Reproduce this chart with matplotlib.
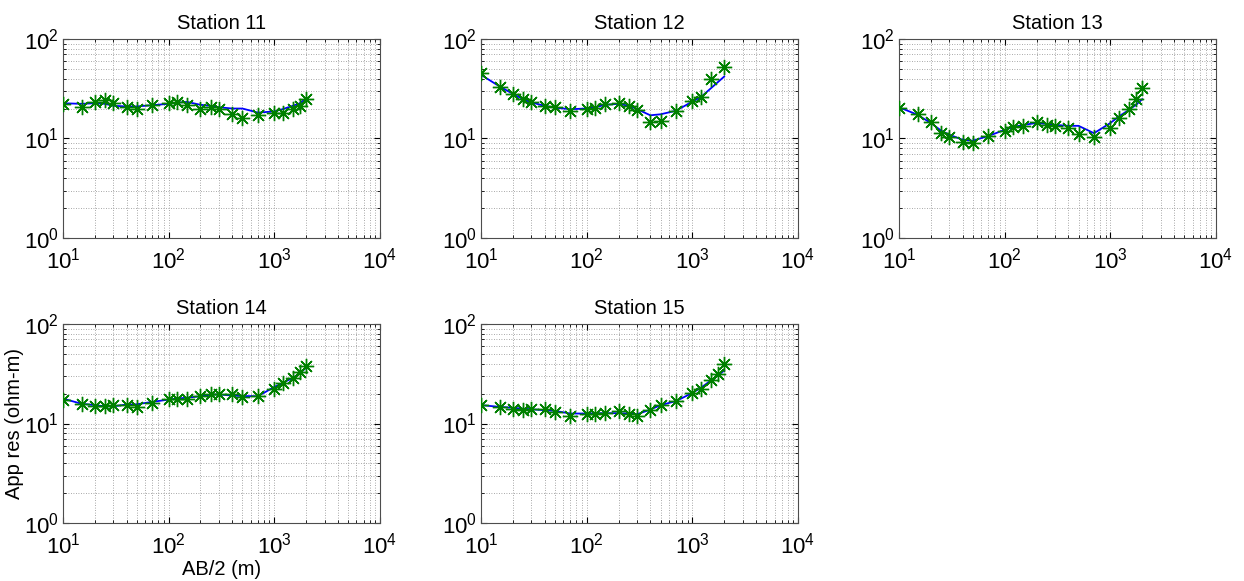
import numpy as np
from matplotlib import pyplot as plt

plt.rcParams['font.family'] = ['Liberation Sans', 'DejaVu Sans']
plt.rcParams['mathtext.fontset'] = 'custom'
plt.rcParams['mathtext.rm'] = 'Liberation Sans'
plt.rcParams['mathtext.it'] = 'Liberation Sans:italic'

# AB/2 spacings (m)
ab2 = [10, 15, 20, 25, 30, 40, 50, 70, 100, 120, 150, 200, 250, 300,
       400, 500, 700, 1000, 1200, 1500, 1750, 2000]
ab2_12 = [10, 15, 20, 25, 30, 40, 50, 70, 100, 120, 150, 200, 250, 300,
          400, 500, 700, 1000, 1200, 1500, 2000]

# measured apparent resistivity (ohm-m)
obs11 = [22.1, 20.9, 23.5, 24.4, 22.6, 20.6, 19.7, 21.6, 22.9, 23.5, 21.8,
         19.7, 20.6, 19.7, 17.5, 16.0, 17.4, 18.0, 18.2, 19.7, 21.3, 25.0]
obs12 = [45.9, 33.3, 28.1, 25.0, 23.0, 21.3, 20.5, 19.1, 19.7, 20.1, 22.3,
         22.6, 21.3, 19.4, 14.8, 15.0, 18.7, 24.0, 26.0, 39.4, 52.0]
obs13 = [20.1, 17.7, 14.5, 11.3, 10.3, 9.3, 9.0, 10.5, 12.0, 13.0, 13.2,
         14.5, 13.7, 13.2, 12.7, 11.1, 10.3, 12.7, 16.0, 19.7, 25.0, 32.0]
obs14 = [17.4, 15.6, 15.0, 14.9, 15.3, 15.3, 14.7, 16.1, 17.8, 17.8, 17.8,
         18.8, 20.0, 20.0, 19.6, 18.5, 18.8, 22.4, 25.5, 28.8, 33.3, 37.7]
obs15 = [15.3, 14.7, 14.1, 13.8, 13.9, 14.1, 13.1, 11.8, 12.4, 12.6, 12.8,
         13.4, 12.6, 11.9, 13.6, 15.3, 16.7, 20.3, 22.4, 27.1, 31.6, 39.2]

# model response
mod11 = [22.6, 22.3, 22.6, 22.3, 21.3, 21.0, 21.0, 21.6, 22.3, 22.9, 23.3,
         21.8, 21.3, 20.6, 20.0, 20.0, 18.2, 18.7, 19.7, 21.3, 22.6, 25.4]
mod12 = [43.6, 33.3, 28.1, 24.8, 23.0, 21.3, 20.4, 19.7, 20.0, 20.6, 21.8,
         22.3, 21.3, 19.7, 17.1, 17.5, 19.0, 23.5, 26.0, 32.0, 41.9]
mod13 = [20.6, 17.3, 14.3, 12.0, 10.9, 9.7, 9.5, 10.6, 12.2, 13.0, 13.7,
         14.3, 14.0, 13.7, 13.4, 13.4, 11.3, 14.3, 16.6, 19.4, 21.8, 24.8]
mod14 = [17.8, 15.8, 15.3, 14.9, 14.9, 15.5, 15.6, 16.5, 17.4, 17.8, 18.2,
         18.8, 19.5, 19.6, 19.1, 18.9, 18.8, 23.3, 25.5, 28.8, 32.1, 36.3]
mod15 = [15.3, 14.7, 14.4, 14.1, 13.9, 13.6, 13.4, 12.6, 12.6, 12.7, 12.7,
         12.7, 12.6, 12.4, 13.8, 15.3, 16.8, 20.3, 22.8, 27.1, 30.4, 34.1]

stations = ["Station 11", "Station 12", "Station 13", "Station 14", "Station 15"]
xs = [ab2, ab2_12, ab2, ab2, ab2]
obs = [obs11, obs12, obs13, obs14, obs15]
mods = [mod11, mod12, mod13, mod14, mod15]

fig = plt.figure(figsize=(12.44, 5.81), dpi=100)

lefts = [0.0506, 0.3867, 0.7227, 0.0506, 0.3867]
bottoms = [0.5904, 0.5904, 0.5904, 0.0998, 0.0998]
w, h = 0.2548, 0.3425

for i in range(5):
    ax = fig.add_axes([lefts[i], bottoms[i], w, h])
    ax.plot(xs[i], mods[i], '-', color='#0000ff', lw=1.3, zorder=3)
    # MATLAB-style asterisk: 8 spokes
    ax.plot(xs[i], obs[i], linestyle='none', marker=(8, 2, 0),
            color='#008000', ms=11, mew=1.0, zorder=4)
    ax.set_xscale('log')
    ax.set_yscale('log')
    ax.set_xlim(10, 1e4)
    ax.set_ylim(1, 100)
    ax.grid(True, which='both', linestyle=(0, (1, 2)), color='0.55', lw=0.6)
    ax.tick_params(which='both', direction='in', top=True, right=True,
                   labelsize=16)
    ax.tick_params(axis='x', pad=7)
    ax.tick_params(axis='y', pad=3)
    ax.tick_params(which='major', length=4)
    ax.tick_params(which='minor', length=2)
    for s in ax.spines.values():
        s.set_color('0.3')
        s.set_linewidth(0.8)
    ax.set_title(stations[i], fontsize=14.5, pad=7)
    if i == 3:
        ax.set_xlabel("AB/2 (m)", fontsize=14.5, labelpad=1)
        ax.set_ylabel("App res (ohm-m)", fontsize=14.5, labelpad=0)

plt.savefig("out.png", dpi=100)
